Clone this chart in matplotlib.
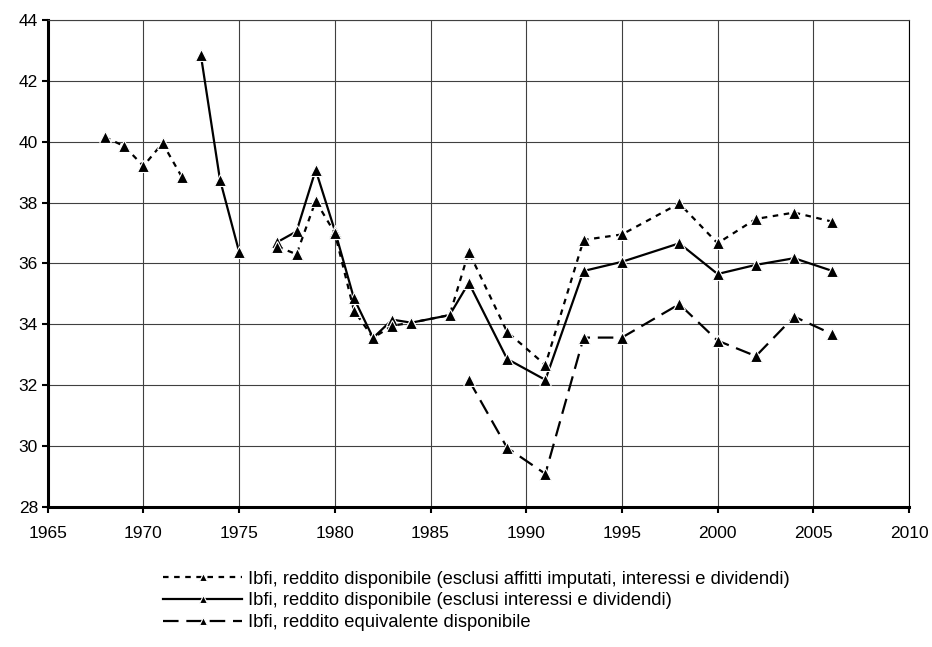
import numpy as np
import matplotlib.pyplot as plt

plt.rcParams['font.family'] = ['Liberation Sans', 'DejaVu Sans']

nan = np.nan

# Ibfi, excl. imputed rents, interest and dividends (dotted)
years_a = [1968, 1969, 1970, 1971, 1972, 1974.5, 1977, 1978, 1979, 1980, 1981, 1982, 1983, 1984,
           1986, 1987, 1989, 1991, 1993, 1995, 1998, 2000, 2002, 2004, 2006]
vals_a = [40.15, 39.85, 39.2, 39.95, 38.85, nan, 36.55, 36.3, 38.05, 37.0, 34.45, 33.55, 33.95, 34.05,
          34.3, 36.38, 33.75, 32.66, 36.77, 36.95, 37.97, 36.66, 37.46, 37.67, 37.37]

# Ibfi, excl. interest and dividends (solid)
years_b = [1973, 1974, 1975, 1976, 1977, 1978, 1979, 1980, 1981, 1982, 1983, 1984,
           1986, 1987, 1989, 1991, 1993, 1995, 1998, 2000, 2002, 2004, 2006]
vals_b = [42.85, 38.75, 36.38, nan, 36.7, 37.05, 39.07, 37.08, 34.85, 33.55, 34.15, 34.05,
          34.3, 35.36, 32.86, 32.17, 35.75, 36.05, 36.66, 35.65, 35.95, 36.17, 35.75]

# Ibfi, equivalent disposable income (long dashes)
years_c = [1987, 1989, 1991, 1993, 1995, 1998, 2000, 2002, 2004, 2006]
vals_c = [32.17, 29.94, 29.08, 33.56, 33.56, 34.66, 33.46, 32.95, 34.25, 33.67]

labels = ['Ibfi, reddito disponibile (esclusi affitti imputati, interessi e dividendi)',
          'Ibfi, reddito disponibile (esclusi interessi e dividendi)',
          'Ibfi, reddito equivalente disponibile']

fig = plt.figure(figsize=(9.32, 6.47), dpi=100)
ax = fig.add_axes([0.0512, 0.2168, 0.9241, 0.7523])

mk = dict(marker='^', ms=8, mfc='black', mec='white', mew=0.8, color='black', lw=1.6)
ax.plot(years_a, vals_a, ls=(0, (2.5, 2.5)), label=labels[0], zorder=4, **mk)
ax.plot(years_b, vals_b, ls='-', label=labels[1], zorder=3, **mk)
ax.plot(years_c, vals_c, ls=(0, (7, 3.5)), label=labels[2], zorder=3, **mk)

ax.set_xlim(1965, 2010)
ax.set_ylim(28, 44)
ax.set_xticks(range(1965, 2011, 5))
ax.set_yticks(range(28, 45, 2))
ax.grid(True, color='#404040', lw=0.8)
ax.set_axisbelow(True)

for s in ['left', 'bottom']:
    ax.spines[s].set_linewidth(2.2)
ax.spines['top'].set_linewidth(0.8)
ax.spines['top'].set_color('#404040')
ax.spines['right'].set_linewidth(0.8)
ax.tick_params(axis='both', labelsize=12.5, length=4, width=1.5, direction='out')
ax.tick_params(axis='x', pad=10)
ax.tick_params(axis='y', pad=3)

fig.legend(loc='upper left', bbox_to_anchor=(0.175, 0.118), frameon=False, fontsize=13.2,
           handlelength=4.3, handletextpad=0.33, labelspacing=0.26, borderpad=0, borderaxespad=0,
           markerscale=0.65)

fig.savefig('out.png', dpi=100)
